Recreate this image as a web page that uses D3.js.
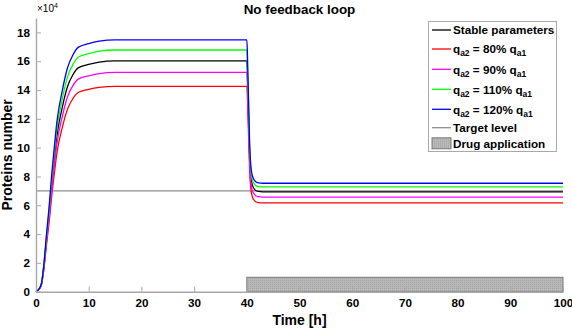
<!DOCTYPE html>
<html>
<head>
<meta charset="utf-8">
<script src="https://cdn.jsdelivr.net/npm/d3@7"></script>
<style>
  html, body { margin: 0; padding: 0; background: #fff; }
  #chart { width: 572px; height: 329px; }
  text { font-family: "Liberation Sans", Arial, sans-serif; font-weight: bold; fill: #000; }
</style>
</head>
<body>
<div id="chart"></div>
<script>
// data (values in units of 1e4 proteins)
const times = [0, 0.5, 1, 1.5, 2, 2.5, 3, 3.5, 4, 5, 6, 7, 8, 10, 12, 15, 40,
  40.1, 40.2, 40.3, 40.4, 40.5, 40.6, 40.8, 41, 41.3, 41.7, 42.2, 43, 100];

const stableValues = [0, 0.14, 0.48, 1.76, 3.68, 5.45, 7.53, 9.29, 10.89, 12.82, 14.26, 15.06, 15.54, 15.78, 15.94, 16.02, 16.02,
  15.38, 13.93, 12.66, 11.29, 9.93, 8.93, 7.93, 7.48, 7.20, 7.02, 6.96, 6.93, 6.93];
const q80Values = [0, 0.13, 0.43, 1.57, 3.28, 4.85, 6.70, 8.27, 9.70, 11.41, 12.69, 13.40, 13.83, 14.05, 14.19, 14.26, 14.26,
  13.69, 12.40, 11.26, 10.05, 8.83, 7.94, 7.05, 6.65, 6.40, 6.24, 6.18, 6.16, 6.16];
const q90Values = [0, 0.14, 0.46, 1.67, 3.50, 5.17, 7.15, 8.83, 10.35, 12.18, 13.55, 14.31, 14.76, 14.99, 15.14, 15.22, 15.22,
  14.61, 13.23, 12.02, 10.72, 9.42, 8.47, 7.52, 7.09, 6.83, 6.66, 6.60, 6.57, 6.57];
const q110Values = [0, 0.15, 0.50, 1.85, 3.86, 5.71, 7.89, 9.73, 11.41, 13.42, 14.93, 15.77, 16.28, 16.53, 16.70, 16.78, 16.78,
  16.11, 14.59, 13.26, 11.83, 10.41, 9.36, 8.32, 7.84, 7.56, 7.37, 7.30, 7.27, 7.27];
const q120Values = [0, 0.16, 0.52, 1.92, 4.02, 5.94, 8.22, 10.14, 11.89, 13.98, 15.56, 16.43, 16.96, 17.22, 17.39, 17.48, 17.48,
  16.78, 15.19, 13.80, 12.31, 10.81, 9.72, 8.62, 8.13, 7.83, 7.63, 7.56, 7.53, 7.53];

const targetLevel = 7;
const drugStart = 40, drugEnd = 100, drugHeight = 1;

const xTicks = [0, 10, 20, 30, 40, 50, 60, 70, 80, 90, 100];
const yTicks = [0, 2, 4, 6, 8, 10, 12, 14, 16, 18];

const series = [
  { name: 'stable', values: stableValues, color: '#000000' },
  { name: '80', values: q80Values, color: '#ff0000' },
  { name: '90', values: q90Values, color: '#ff00ff' },
  { name: '110', values: q110Values, color: '#00ff00' },
  { name: '120', values: q120Values, color: '#0000ff' }
];

// measures
const width = 572, height = 329;
const margins = { top: 18, right: 9, bottom: 37.3, left: 36 };
const innerW = width - margins.left - margins.right;
const innerH = height - margins.top - margins.bottom;

const xScale = d3.scaleLinear().domain([0, 100]).range([0, innerW]);
const yScale = d3.scaleLinear().domain([0, 19]).range([innerH, 0]);

const $svg = d3.select('#chart').append('svg')
  .attr('width', width)
  .attr('height', height);

// dotted texture for the drug patch
const $pattern = $svg.append('defs').append('pattern')
  .attr('id', 'dots')
  .attr('width', 2).attr('height', 2)
  .attr('patternUnits', 'userSpaceOnUse');
$pattern.append('rect').attr('width', 2).attr('height', 2).style('fill', '#b8b8b8');
$pattern.append('rect').attr('width', 1).attr('height', 1).style('fill', '#a4a4a4');

const $g = $svg.append('g')
  .attr('transform', `translate(${margins.left}, ${margins.top})`);

// drug patch
$g.append('rect')
  .attr('x', xScale(drugStart))
  .attr('y', yScale(drugHeight))
  .attr('width', xScale(drugEnd) - xScale(drugStart))
  .attr('height', yScale(0) - yScale(drugHeight))
  .style('fill', 'url(#dots)')
  .style('stroke', '#7a7a7a')
  .style('stroke-width', 1);

// target level
$g.append('line')
  .attr('x1', xScale(0))
  .attr('x2', xScale(100))
  .attr('y1', yScale(targetLevel))
  .attr('y2', yScale(targetLevel))
  .style('stroke', '#8c8c8c')
  .style('stroke-width', 1.2);

const line = d3.line()
  .x((d, i) => xScale(times[i]))
  .y(d => yScale(d))
  .curve(d3.curveMonotoneX);

$g.selectAll('.series')
  .data(series)
  .enter()
  .append('path')
  .classed('series', true)
  .attr('d', d => line(d.values))
  .style('fill', 'none')
  .style('stroke', d => d.color)
  .style('stroke-width', 1.3);

// axes
const xAxis = d3.axisBottom(xScale).tickValues(xTicks).tickSizeInner(-5).tickSizeOuter(0).tickPadding(7);
const yAxis = d3.axisLeft(yScale).tickValues(yTicks).tickSizeInner(-5).tickSizeOuter(0).tickPadding(6);

const $xAxisGroup = $g.append('g')
  .attr('transform', `translate(0, ${innerH})`)
  .call(xAxis);
const $yAxisGroup = $g.append('g').call(yAxis);

[$xAxisGroup, $yAxisGroup].forEach($a => {
  $a.select('.domain').style('stroke', '#a8a8a8').style('stroke-width', 1.4);
  $a.selectAll('.tick line').style('stroke', '#a8a8a8').style('stroke-width', 1);
  $a.selectAll('.tick text')
    .style('font-family', '"Liberation Sans", Arial, sans-serif')
    .style('font-weight', 'bold')
    .style('font-size', '11.7px')
    .style('fill', '#000');
});

// exponent
const $exp = $svg.append('text')
  .attr('x', margins.left + 1)
  .attr('y', 12)
  .style('font-size', '10px')
  .style('font-weight', 'normal');
$exp.append('tspan').text('\u00d710');
$exp.append('tspan').attr('dy', -4).style('font-size', '7px').text('4');

// title and labels
$svg.append('text')
  .attr('x', margins.left + innerW / 2)
  .attr('y', 14)
  .attr('text-anchor', 'middle')
  .style('font-size', '13.4px')
  .text('No feedback loop');

$svg.append('text')
  .attr('x', margins.left + innerW / 2)
  .attr('y', 325)
  .attr('text-anchor', 'middle')
  .style('font-size', '14px')
  .text('Time [h]');

$svg.append('text')
  .attr('transform', `translate(12, ${margins.top + innerH / 2}) rotate(-90)`)
  .attr('text-anchor', 'middle')
  .style('font-size', '14px')
  .text('Proteins number');

// legend
const legendItems = [
  { type: 'line', color: '#000000', label: 'Stable parameters', y: 30 },
  { type: 'line', color: '#ff0000', pct: '80%', y: 49 },
  { type: 'line', color: '#ff00ff', pct: '90%', y: 69.3 },
  { type: 'line', color: '#00ff00', pct: '110%', y: 89.3 },
  { type: 'line', color: '#0000ff', pct: '120%', y: 109.3 },
  { type: 'line', color: '#8c8c8c', label: 'Target level', y: 127.7 },
  { type: 'patch', label: 'Drug application', y: 143.3 }
];

const $legend = $svg.append('g');
$legend.append('rect')
  .attr('x', 428.5).attr('y', 21.5)
  .attr('width', 128).attr('height', 130)
  .style('fill', '#fff')
  .style('stroke', '#a8a8a8')
  .style('stroke-width', 1);

const $items = $legend.selectAll('.legend-item')
  .data(legendItems)
  .enter()
  .append('g')
  .classed('legend-item', true)
  .attr('transform', d => `translate(0, ${d.y})`);

$items.filter(d => d.type === 'line')
  .append('line')
  .attr('x1', 432).attr('x2', 451)
  .style('stroke', d => d.color)
  .style('stroke-width', 1.3);

$items.filter(d => d.type === 'patch')
  .append('rect')
  .attr('x', 432).attr('y', -5.5)
  .attr('width', 19).attr('height', 11)
  .style('fill', 'url(#dots)')
  .style('stroke', '#7a7a7a');

const $labels = $items.append('text')
  .attr('x', 453)
  .attr('y', 4.2)
  .style('font-size', '11.7px');

$labels.filter(d => d.label).text(d => d.label);

$labels.filter(d => d.pct).each(function(d) {
  const $t = d3.select(this);
  $t.append('tspan').text('q');
  $t.append('tspan').attr('dy', 3).style('font-size', '8.5px').text('a2');
  $t.append('tspan').attr('dy', -3).text(` = ${d.pct} q`);
  $t.append('tspan').attr('dy', 3).style('font-size', '8.5px').text('a1');
});
</script>
</body>
</html>
